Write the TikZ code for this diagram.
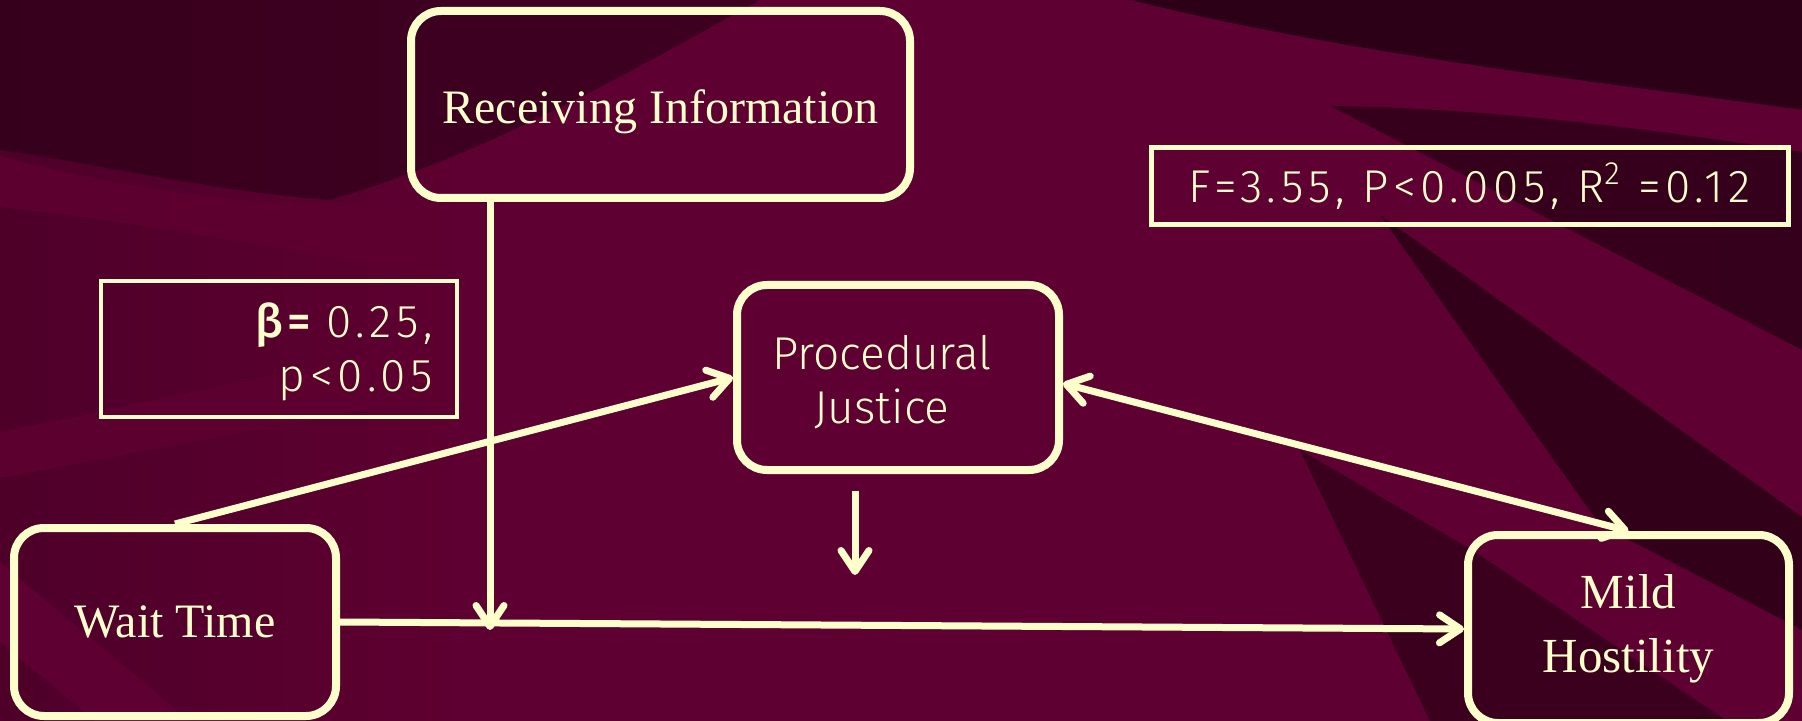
\documentclass[tikz,border=0pt]{standalone}
\usepackage{fontspec}
\usepackage{graphicx}
\setmainfont{Liberation Serif}
\newfontfamily\lightsans{Fira Sans Light}[BoldFont={Fira Sans Medium}]
\newfontfamily\spacedsans{Fira Sans Light}[BoldFont={Fira Sans Medium}, LetterSpace=10]
\usetikzlibrary{arrows.meta}
\definecolor{cream}{RGB}{255,255,204}
\definecolor{bgdark}{RGB}{36,0,19}
\definecolor{bgmid}{RGB}{74,0,39}
\definecolor{bgbright}{RGB}{94,0,49}
\definecolor{bgdeep}{RGB}{44,0,23}
\pgfdeclarehorizontalshading{bgshade}{100bp}{color(0bp)=(bgdark); color(22bp)=(bgmid); color(38bp)=(bgbright); color(72bp)=(bgbright); color(100bp)=(bgmid)}
\begin{document}
\begin{tikzpicture}[x=0.5pt,y=-0.5pt,
  box/.style={draw=cream, line width=4pt, rounded corners=15pt, text=cream, align=center},
  seriftext/.style={font=\fontsize{24}{31}\selectfont},
  sanstext/.style={font=\lightsans\fontsize{23}{27}\selectfont},
  spacedtext/.style={font=\spacedsans\fontsize{23}{27}\selectfont},
  statbox/.style={draw=cream, text=cream, sharp corners},
  conn/.style={draw=cream, line width=3.5pt, -{Straight Barb[length=10.5pt,width=14pt,round]}},
  twoway/.style={draw=cream, line width=3.5pt, {Straight Barb[length=10.5pt,width=14pt,round]}-{Straight Barb[length=10.5pt,width=14pt,round]}}
]
\useasboundingbox (0,0) rectangle (1802,721);
% ---------- background ----------
\shade[shading=bgshade] (0,0) rectangle (1802,721);
\fill[bgdark, opacity=0.55] (0,0) -- (760,0) .. controls (650,60) and (500,150) .. (330,200) .. controls (200,190) and (80,160) .. (0,150) -- cycle;
% left bright swoosh
\fill[bgbright, opacity=0.9] (0,156) .. controls (120,188) and (250,208) .. (400,207) .. controls (550,205) and (660,165) .. (780,140)
  -- (780,225) .. controls (620,262) and (460,282) .. (300,252) .. controls (180,230) and (80,216) .. (0,207) -- cycle;
% left lower band
\fill[bgbright, opacity=0.85] (0,432) .. controls (200,392) and (420,340) .. (720,295)
  -- (720,345) .. controls (450,392) and (250,432) .. (0,478) -- cycle;
% bottom-left diagonal band
\fill[bgbright] (0,562) -- (190,721) -- (95,721) -- (0,642) -- cycle;
% top-right region
\fill[bgdeep] (1130,0) -- (1802,0) -- (1802,110) .. controls (1600,82) and (1350,55) .. (1130,0) -- cycle;
\fill[bgbright] (1130,0) .. controls (1350,55) and (1600,82) .. (1802,110) -- (1802,152) .. controls (1600,118) and (1350,95) .. (1100,40) -- cycle;
% right diagonal stripes
\fill[bgdeep, opacity=0.8] (1330,106) .. controls (1480,108) and (1630,126) .. (1802,152) -- (1802,350) -- cycle;
\fill[bgbright] (1330,106) -- (1802,350) -- (1802,517) -- (1380,215) -- cycle;
\fill[bgdeep, opacity=0.85] (1380,215) -- (1802,517) -- (1802,630) -- (1600,525) -- cycle;
\fill[bgbright] (1300,440) -- (1600,525) -- (1802,630) -- (1802,721) -- (1727,721) -- (1472,550) -- cycle;
\fill[bgdeep, opacity=0.7] (1300,450) -- (1472,550) -- (1727,721) -- (1430,721) -- cycle;
% ---------- diagram ----------
\node[box, seriftext, minimum width=249.5pt, minimum height=93.5pt] (ri) at (660.5,104.5) {\rule{0pt}{24pt}Receiving Information};
\node[box, sanstext, minimum width=161pt, minimum height=92.5pt] (pj) at (898,377.5) {\rule{0pt}{22pt}Procedural\hspace*{16pt}\\Justice\hspace*{16pt}};
\node[box, seriftext, minimum width=161pt, minimum height=94pt] (wt) at (175,622) {Wait Time};
\node[box, seriftext, font=\fontsize{24.5}{32}\selectfont, minimum width=160.5pt, minimum height=94pt] (mh) at (1628.5,629) {Mild\\Hostility};
\node[statbox, spacedtext, line width=2.5pt, minimum width=318.5pt, minimum height=38.5pt] (st) at (1469.5,186.5) {F=3.55, P<0.005, R\textsuperscript{2} =0.12};
\node[statbox, spacedtext, line width=1.6pt, minimum width=178pt, minimum height=68pt, inner xsep=12pt, text width=154pt, align=right] (beta) at (279,349) {\rule{0pt}{20pt}{\bfseries β=} 0.25,\\p<0.05};
\coordinate (join) at (490,630);
\coordinate (dtop) at (855,491);
\coordinate (dbot) at (855,575);
\draw[conn] (wt.north) -- (pj.west);
\draw[twoway] ([yshift=-3pt]pj.east) -- (mh.north);
\draw[conn] (ri.south -| join) -- (join);
\draw[conn] (wt.east) -- (mh.west);
\draw[conn] (dtop) -- (dbot);
\end{tikzpicture}
\end{document}
